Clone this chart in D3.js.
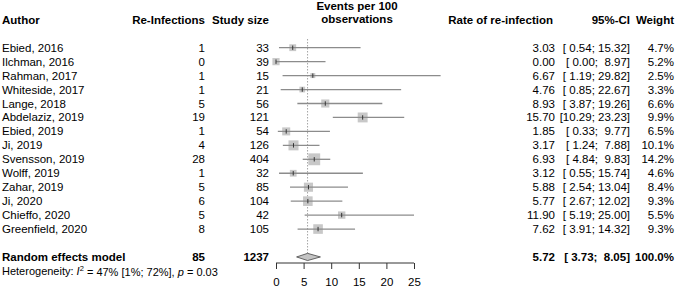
<!DOCTYPE html>
<html>
<head>
<meta charset="utf-8">
<script src="https://cdn.jsdelivr.net/npm/d3@7"></script>
<style>
  html, body { margin: 0; padding: 0; background: #fff; }
  svg { display: block; font-family: 'Liberation Sans', Arial, sans-serif; }
  text { white-space: pre; }
</style>
</head>
<body>
<div id="chart"></div>
<script>
const authors = ['Ebied, 2016', 'Ilchman, 2016', 'Rahman, 2017', 'Whiteside, 2017', 'Lange, 2018',
  'Abdelaziz, 2019', 'Ebied, 2019', 'Ji, 2019', 'Svensson, 2019', 'Wolff, 2019', 'Zahar, 2019',
  'Ji, 2020', 'Chieffo, 2020', 'Greenfield, 2020']
const events = [1, 0, 1, 1, 5, 19, 1, 4, 28, 1, 5, 6, 5, 8]
const sizes = [33, 39, 15, 21, 56, 121, 54, 126, 404, 32, 85, 104, 42, 105]
const rates = [3.03, 0.00, 6.67, 4.76, 8.93, 15.70, 1.85, 3.17, 6.93, 3.12, 5.88, 5.77, 11.90, 7.62]
const lower = [0.54, 0.00, 1.19, 0.85, 3.87, 10.29, 0.33, 1.24, 4.84, 0.55, 2.54, 2.67, 5.19, 3.91]
const upper = [15.32, 8.97, 29.82, 22.67, 19.26, 23.23, 9.77, 7.88, 9.83, 15.74, 13.04, 12.02, 25.00, 14.32]
const weights = [4.7, 5.2, 2.5, 3.3, 6.6, 9.9, 6.5, 10.1, 14.2, 4.6, 8.4, 9.3, 5.5, 9.3]
const pooled = { events: 85, size: 1237, rate: 5.72, lower: 3.73, upper: 8.05, weight: 100.0 }
const axisTicks = [0, 5, 10, 15, 20, 25]

const width = 676
const height = 291
const fs = 11.5

const svg = d3.select('#chart')
  .append('svg')
  .attr('width', width)
  .attr('height', height)

const x = d3.scaleLinear().domain([0, 25]).range([276, 414])
const y = d3.scaleLinear().domain([0, 1]).range([47.7, 47.7 + 13.95])
const ySum = y(15)
const yHet = y(16)

const pad = v => {
  const s = v.toFixed(2)
  return ' '.repeat(Math.max(0, 5 - s.length)) + s
}
const ciText = (l, u) => `[${pad(l)};${' ' + pad(u)}]`

// 表头
const head = svg.append('g').style('font-weight', 'bold').style('font-size', fs + 'px')
head.append('text').attr('x', 2).attr('y', y(-2)).attr('dy', '0.35em').text('Author')
head.append('text').attr('x', 205).attr('y', y(-2)).attr('dy', '0.35em').attr('text-anchor', 'end').text('Re-Infections')
head.append('text').attr('x', 269).attr('y', y(-2)).attr('dy', '0.35em').attr('text-anchor', 'end').text('Study size')
head.append('text').attr('x', 357).attr('y', 5.8).attr('dy', '0.35em').attr('text-anchor', 'middle').text('Events per 100')
head.append('text').attr('x', 357).attr('y', 19).attr('dy', '0.35em').attr('text-anchor', 'middle').text('observations')
head.append('text').attr('x', 553).attr('y', y(-2)).attr('dy', '0.35em').attr('text-anchor', 'end').text('Rate of re-infection')
head.append('text').attr('x', 630).attr('y', y(-2)).attr('dy', '0.35em').attr('text-anchor', 'end').text('95%-CI')
head.append('text').attr('x', 674).attr('y', y(-2)).attr('dy', '0.35em').attr('text-anchor', 'end').text('Weight')

// 参考线
svg.append('line')
  .attr('x1', x(pooled.rate)).attr('x2', x(pooled.rate))
  .attr('y1', y(-0.6)).attr('y2', ySum - 3)
  .attr('stroke', '#777').attr('stroke-width', 1)
  .attr('stroke-dasharray', '1,2')

// 研究行
const rows = svg.append('g').style('font-size', fs + 'px')
const node = rows.selectAll('g.row').data(authors).enter()
  .append('g').classed('row', true)
  .attr('transform', (d, i) => `translate(0, ${y(i)})`)

node.append('text').attr('x', 2).attr('dy', '0.35em').text(d => d)
node.append('text').attr('x', 205).attr('dy', '0.35em').attr('text-anchor', 'end').text((d, i) => events[i])
node.append('text').attr('x', 269).attr('dy', '0.35em').attr('text-anchor', 'end').text((d, i) => sizes[i])
node.append('text').attr('x', 555).attr('dy', '0.35em').attr('text-anchor', 'end').text((d, i) => rates[i].toFixed(2))
node.append('text').attr('x', 630).attr('dy', '0.35em').attr('text-anchor', 'end').text((d, i) => ciText(lower[i], upper[i]))
node.append('text').attr('x', 674).attr('dy', '0.35em').attr('text-anchor', 'end').text((d, i) => weights[i].toFixed(1) + '%')

const side = w => 3.15 * Math.sqrt(w)

node.append('rect')
  .attr('x', (d, i) => x(rates[i]) - side(weights[i]) / 2)
  .attr('y', (d, i) => -side(weights[i]) / 2)
  .attr('width', (d, i) => side(weights[i]))
  .attr('height', (d, i) => side(weights[i]))
  .attr('fill', '#c8c8c8')

node.append('line')
  .attr('x1', (d, i) => x(lower[i])).attr('x2', (d, i) => x(upper[i]))
  .attr('y1', 0).attr('y2', 0)
  .attr('stroke', '#8c8c8c').attr('stroke-width', 1.3)

node.append('line')
  .attr('x1', (d, i) => x(rates[i])).attr('x2', (d, i) => x(rates[i]))
  .attr('y1', -2.2).attr('y2', 2.2)
  .attr('stroke', '#333').attr('stroke-width', 1)

// 汇总
const sum = svg.append('g').style('font-size', fs + 'px').style('font-weight', 'bold')
  .attr('transform', `translate(0, ${ySum})`)
sum.append('text').attr('x', 2).attr('dy', '0.35em').text('Random effects model')
sum.append('text').attr('x', 205).attr('dy', '0.35em').attr('text-anchor', 'end').text(pooled.events)
sum.append('text').attr('x', 269).attr('dy', '0.35em').attr('text-anchor', 'end').text(pooled.size)
sum.append('text').attr('x', 555).attr('dy', '0.35em').attr('text-anchor', 'end').text(pooled.rate.toFixed(2))
sum.append('text').attr('x', 630).attr('dy', '0.35em').attr('text-anchor', 'end').text(ciText(pooled.lower, pooled.upper))
sum.append('text').attr('x', 674).attr('dy', '0.35em').attr('text-anchor', 'end').text(pooled.weight.toFixed(1) + '%')

sum.append('path')
  .attr('d', `M${x(pooled.lower)},0 L${x(pooled.rate)},-3.6 L${x(pooled.upper)},0 L${x(pooled.rate)},3.6 Z`)
  .attr('fill', '#c4c4c4')
  .attr('stroke', '#444').attr('stroke-width', 0.8)

// 异质性
const het = svg.append('text')
  .attr('x', 2).attr('y', yHet).attr('dy', '0.35em')
  .style('font-size', '11px')
het.append('tspan').text('Heterogeneity: ')
het.append('tspan').style('font-style', 'italic').text('I')
het.append('tspan').attr('dy', '-0.45em').style('font-size', '7.5px').text('2')
het.append('tspan').attr('dy', '0.45em').text(' = 47% [1%; 72%], ')
het.append('tspan').style('font-style', 'italic').text('p')
het.append('tspan').text(' = 0.03')

// x坐标轴
const axisY = 263
const xAxis = d3.axisBottom(x).tickValues(axisTicks).tickSize(6).tickSizeOuter(0).tickFormat(d => d)
const ax = svg.append('g')
  .attr('transform', `translate(0, ${axisY})`)
  .call(xAxis)
ax.select('.domain').attr('stroke', '#333').attr('d', `M${x(0)},0H${x(25)}`)
ax.selectAll('.tick line').attr('stroke', '#333')
ax.selectAll('.tick text')
  .attr('y', 15)
  .style('font-size', fs + 'px')
  .style('font-family', "'Liberation Sans', Arial, sans-serif")
  .attr('fill', '#000')
</script>
</body>
</html>
